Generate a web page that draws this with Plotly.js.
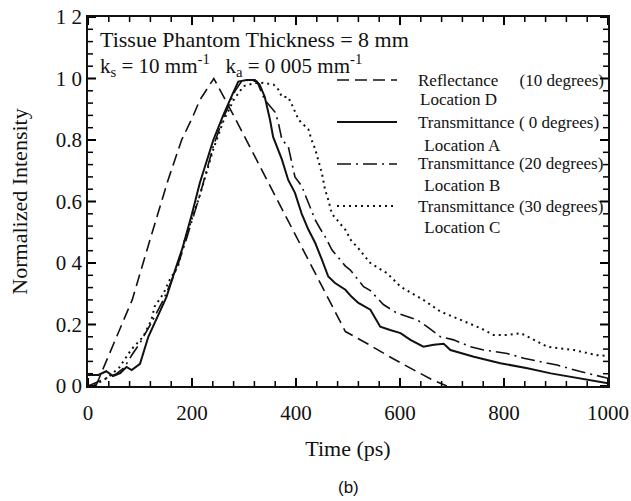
<!DOCTYPE html>
<html>
<head>
<meta charset="utf-8">
<script src="https://cdn.plot.ly/plotly-3.0.1.min.js"></script>
<style>html,body{margin:0;padding:0;background:#fff;}#chart{width:631px;height:501px;}</style>
</head>
<body>
<div id="chart"></div>
<script>
// ---- data (time in ps, normalized intensity) ----
const timeReflect10 = [15, 50, 85, 120, 154, 180, 200, 215, 230, 242, 280, 320, 360, 400, 440, 470, 495, 540, 580, 620, 660, 690];
const reflect10     = [0.0, 0.14, 0.28, 0.48, 0.67, 0.80, 0.87, 0.93, 0.97, 1.0, 0.88, 0.75, 0.62, 0.49, 0.36, 0.26, 0.177, 0.135, 0.095, 0.058, 0.022, 0.0];

const timeTrans0 = [0, 20, 35, 48, 62, 74, 84, 100, 116, 132, 151, 170, 182, 200, 215, 241, 260, 279, 289, 305, 321, 330, 340, 350, 356, 373, 385, 398, 411, 424, 437, 450, 462, 475, 495, 507, 520, 543, 562, 581, 601, 620, 645, 665, 684, 697, 742, 793, 845, 890, 947, 980, 1000];
const trans0     = [0.036, 0.036, 0.048, 0.032, 0.042, 0.062, 0.052, 0.072, 0.16, 0.22, 0.29, 0.39, 0.45, 0.56, 0.66, 0.80, 0.88, 0.953, 0.99, 0.995, 0.995, 0.98, 0.94, 0.866, 0.81, 0.736, 0.67, 0.628, 0.56, 0.508, 0.465, 0.41, 0.356, 0.335, 0.313, 0.29, 0.27, 0.248, 0.193, 0.182, 0.172, 0.15, 0.128, 0.134, 0.137, 0.117, 0.095, 0.074, 0.058, 0.041, 0.025, 0.014, 0.009];

const timeTrans20 = [0, 19, 35, 55, 70, 84, 100, 120, 145, 170, 186, 199, 215, 241, 260, 283, 295, 310, 325, 340, 350, 360, 366, 373, 385, 392, 398, 411, 424, 437, 446, 456, 469, 481, 495, 504, 517, 530, 543, 568, 594, 633, 652, 678, 703, 735, 761, 806, 838, 870, 902, 947, 986, 1000];
const trans20     = [0.0, 0.014, 0.025, 0.04, 0.06, 0.10, 0.14, 0.20, 0.28, 0.38, 0.46, 0.53, 0.62, 0.78, 0.87, 0.96, 0.99, 0.995, 0.99, 0.93, 0.91, 0.89, 0.857, 0.80, 0.78, 0.726, 0.68, 0.65, 0.595, 0.54, 0.513, 0.486, 0.443, 0.417, 0.39, 0.378, 0.35, 0.323, 0.31, 0.265, 0.237, 0.215, 0.193, 0.16, 0.15, 0.128, 0.117, 0.106, 0.09, 0.079, 0.068, 0.047, 0.03, 0.025];

const timeTrans30 = [0, 20, 40, 60, 84, 106, 122, 128, 145, 157, 173, 186, 199, 215, 241, 260, 280, 299, 320, 337, 357, 366, 373, 385, 392, 398, 405, 424, 430, 437, 443, 450, 456, 462, 469, 479, 495, 507, 517, 533, 543, 559, 575, 601, 645, 678, 716, 755, 780, 806, 832, 857, 883, 934, 980, 1000];
const trans30     = [0.0, 0.01, 0.03, 0.06, 0.12, 0.16, 0.215, 0.258, 0.30, 0.345, 0.389, 0.475, 0.54, 0.62, 0.77, 0.86, 0.93, 0.975, 0.985, 0.986, 0.98, 0.964, 0.94, 0.94, 0.915, 0.89, 0.866, 0.834, 0.80, 0.77, 0.736, 0.69, 0.638, 0.606, 0.56, 0.54, 0.508, 0.47, 0.454, 0.42, 0.40, 0.383, 0.367, 0.323, 0.28, 0.242, 0.215, 0.188, 0.166, 0.166, 0.172, 0.15, 0.128, 0.117, 0.10, 0.098];

const xTickVals = [0, 200, 400, 600, 800, 1000];
const xTickText = ["0", "200", "400", "600", "800", "1000"];
const yTickVals = [0, 0.2, 0.4, 0.6, 0.8, 1.0, 1.2];
const yTickText = ["0 0", "0.2", "0 4", "0.6", "0.8", "1 0", "1 2"];

const seriesNames = ["Reflectance (10 degrees) Location D", "Transmittance ( 0 degrees) Location A", "Transmittance (20 degrees) Location B", "Transmittance (30 degrees) Location C"];

// ---- styles ----
const serif = "Liberation Serif";
const dashRef = "12px,6px";
const dashDD = "14px,5px,2px,5px";
const dashDot = "2px,4px";

const traces = [
  {x: timeReflect10, y: reflect10, name: seriesNames[0], mode: "lines", line: {color: "#111", width: 1.6, dash: dashRef}},
  {x: timeTrans0, y: trans0, name: seriesNames[1], mode: "lines", line: {color: "#111", width: 2}},
  {x: timeTrans20, y: trans20, name: seriesNames[2], mode: "lines", line: {color: "#111", width: 1.6, dash: dashDD}},
  {x: timeTrans30, y: trans30, name: seriesNames[3], mode: "lines", line: {color: "#111", width: 2, dash: dashDot}}
];

// plot area in pixels: x 88..608, y 17..386
const L = 88, R = 608, T = 17, B = 386;
const px = v => (v - L) / (R - L);
const py = v => (B - v) / (B - T);

const shapes = [];

// inside tick marks on all four sides (major + 4 minor per interval), placed on the axes' own scales
function tickMarks(vals, axis, nSub) {
  for (let i = 0; i < vals.length; i++) {
    const n = i < vals.length - 1 ? nSub : 1;
    for (let k = 0; k < n; k++) {
      const v = k === 0 ? vals[i] : vals[i] + (vals[i + 1] - vals[i]) * k / nSub;
      const len = k === 0 ? 8 : 5;
      const st = {color: "#000", width: k === 0 ? 2 : 1.5};
      if (axis === "x") {
        shapes.push({type: "line", layer: "above", xref: "x", yref: "paper", x0: v, x1: v, y0: 0, y1: len / (B - T), line: st});
        shapes.push({type: "line", layer: "above", xref: "x", yref: "paper", x0: v, x1: v, y0: 1, y1: 1 - len / (B - T), line: st});
      } else {
        shapes.push({type: "line", layer: "above", xref: "paper", yref: "y", y0: v, y1: v, x0: 0, x1: len / (R - L), line: st});
        shapes.push({type: "line", layer: "above", xref: "paper", yref: "y", y0: v, y1: v, x0: 1, x1: 1 - len / (R - L), line: st});
      }
    }
  }
}
tickMarks(xTickVals, "x", 5);
tickMarks(yTickVals, "y", 5);

const legendRows = [
  {y: 80, dash: dashRef, w: 1.6, l1: "Reflectance\u00A0\u00A0\u00A0\u00A0\u00A0(10 degrees)", l2: "Location D", l2y: 99},
  {y: 122, dash: "solid", w: 2, l1: "Transmittance ( 0 degrees)", l2: "\u00A0Location A", l2y: 145},
  {y: 164, dash: dashDD, w: 1.6, l1: "Transmittance (20 degrees)", l2: "\u00A0Location B", l2y: 185},
  {y: 206, dash: dashDot, w: 2, l1: "Transmittance (30 degrees)", l2: "\u00A0Location C", l2y: 227}
];

const annotations = [
  {xref: "paper", yref: "paper", x: px(98), y: py(39), xanchor: "left", yanchor: "middle", showarrow: false,
   text: "Tissue Phantom Thickness = 8 mm", font: {family: serif, size: 22, color: "#111"}},
  {xref: "paper", yref: "paper", x: px(98), y: py(65), xanchor: "left", yanchor: "middle", showarrow: false,
   text: "k<sub>s</sub> = 10 mm<sup>-1</sup>\u00A0\u00A0 k<sub>a</sub> = 0 005 mm<sup>-1</sup>", font: {family: serif, size: 21, color: "#111"}},
  {xref: "paper", yref: "paper", x: 0.5, y: py(487), xanchor: "center", yanchor: "middle", showarrow: false,
   text: "(b)", font: {family: "Liberation Sans", size: 17, color: "#111"}}
];
legendRows.forEach(r => {
  shapes.push({type: "line", xref: "paper", yref: "paper", x0: px(337), x1: px(397), y0: py(r.y), y1: py(r.y),
    line: {color: "#111", width: r.w, dash: r.dash}});
  annotations.push({xref: "paper", yref: "paper", x: px(416), y: py(r.y), xanchor: "left", yanchor: "middle", showarrow: false,
    text: r.l1, font: {family: serif, size: 17, color: "#111"}});
  annotations.push({xref: "paper", yref: "paper", x: px(418), y: py(r.l2y), xanchor: "left", yanchor: "middle", showarrow: false,
    text: r.l2, font: {family: serif, size: 17, color: "#111"}});
});

const layout = {
  width: 631, height: 501,
  margin: {l: L, r: 631 - R, t: T, b: 501 - B},
  paper_bgcolor: "#fff", plot_bgcolor: "rgba(0,0,0,0)",
  showlegend: false,
  xaxis: {
    range: [0, 1000], tickmode: "array", tickvals: xTickVals, ticktext: xTickText,
    showline: true, linecolor: "#111", linewidth: 1.5, mirror: true,
    ticks: "", showgrid: false, zeroline: false,
    tickfont: {family: serif, size: 21, color: "#111"},
    ticklabelstandoff: 7,
    title: {text: "Time (ps)", font: {family: serif, size: 22, color: "#111"}, standoff: 17}
  },
  yaxis: {
    range: [0, 1.2], tickmode: "array", tickvals: yTickVals, ticktext: yTickText,
    showline: true, linecolor: "#111", linewidth: 1.5, mirror: true,
    ticks: "", showgrid: false, zeroline: false,
    tickfont: {family: serif, size: 21, color: "#111"},
    title: {text: "Normalized Intensity", font: {family: serif, size: 22, color: "#111"}, standoff: 22}
  },
  shapes: shapes,
  annotations: annotations
};

Plotly.newPlot("chart", traces, layout, {displayModeBar: false});
</script>
</body>
</html>
